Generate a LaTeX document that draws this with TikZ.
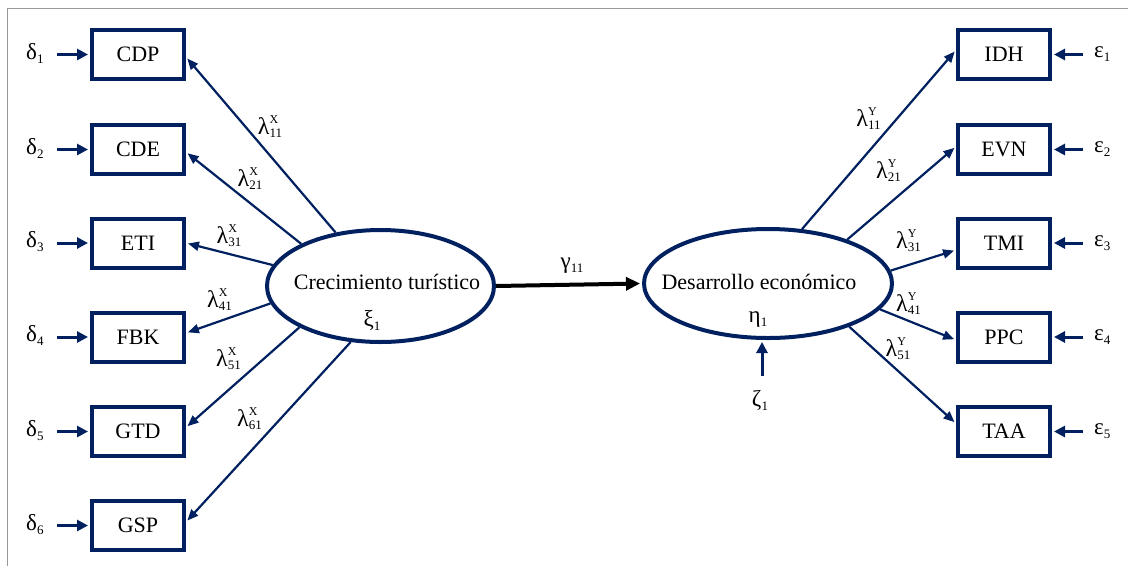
\documentclass[tikz,border=0pt]{standalone}
\usepackage{fontspec}
\setmainfont{Liberation Serif}
\usetikzlibrary{arrows.meta,shapes.geometric}
\definecolor{navy}{RGB}{0,32,96}
\newcommand{\sbs}[1]{\raisebox{-4pt}{\fontsize{13}{13}\selectfont #1}}
\newcommand{\lmb}[2]{{\fontsize{24}{26}\selectfont λ}\rlap{\raisebox{11pt}{\fontsize{12}{12}\selectfont #1}}\raisebox{-3pt}{\fontsize{13}{13}\selectfont #2}}
\begin{document}
\begin{tikzpicture}[x=1pt,y=-1pt,
  every node/.style={font=\fontsize{22}{24}\selectfont, text=black},
  obs/.style={draw=navy, line width=4pt, minimum width=92pt, minimum height=49pt, inner sep=0pt},
  lat/.style={ellipse, draw=navy, line width=4pt, inner sep=0pt},
  load/.style={draw=navy, line width=2.2pt, -{Triangle[length=11pt,width=9pt]}, shorten >=2pt},
  err/.style={draw=navy, line width=3pt, -{Triangle[length=11pt,width=11pt]}, shorten >=2pt},
  lbl/.style={inner sep=0pt},
  grk/.style={inner sep=0pt, font=\fontsize{23}{25}\selectfont}]
\useasboundingbox (0,0) rectangle (1128,566);
\draw[gray!80, line width=1pt] (1128,8) -- (7,8) -- (7,566);

% latent variables
\node[lat, minimum width=227pt, minimum height=112pt] (xi) at (380.5,286) {};
\node[lat, minimum width=248pt, minimum height=109pt] (eta) at (768,283.5) {};
\node[lbl, anchor=base] (xit) at (387,289) {Crecimiento turístico};
\node[grk] (xis) at (372,320) {ξ\sbs{1}};
\node[lbl, anchor=base] (etat) at (759,289) {Desarrollo económico};
\node[grk] (etas) at (758,320) {η\sbs{1}};

% observed X
\foreach \n/\t/\y in {CDP/CDP/54.5, CDE/CDE/149.5, ETI/ETI/243, FBK/FBK/337, GTD/GTD/431.5, GSP/GSP/525.5}{
  \node[obs] (\n) at (138,\y) {\t};
}
% observed Y
\foreach \n/\t/\y in {IDH/IDH/54.5, EVN/EVN/149.5, TMI/TMI/243, PPC/PPC/337, TAA/TAA/431.5}{
  \node[obs] (\n) at (1004,\y) {\t};
}

% delta errors
\foreach \i/\b/\y in {1/CDP/54.5, 2/CDE/149.5, 3/ETI/243, 4/FBK/337, 5/GTD/431.5, 6/GSP/525.5}{
  \node[grk, anchor=base west] (d\i) at (26,\y+4.5) {δ\sbs{\i}};
  \coordinate (d\i c) at (57,\y);
  \draw[err] (d\i c) -- (\b.west);
}
% epsilon errors
\foreach \i/\b/\y in {1/IDH/54.5, 2/EVN/149.5, 3/TMI/243, 4/PPC/337, 5/TAA/431.5}{
  \node[grk, anchor=base west] (e\i) at (1094,\y+3) {ε\sbs{\i}};
  \coordinate (e\i c) at (1083,\y);
  \draw[err] (e\i c) -- (\b.east);
}

% zeta
\node[grk] (z1) at (760,400) {ζ\sbs{1}};
\coordinate (z1c) at (762,376);
\draw[err] (z1c) -- ([xshift=-6pt]eta.south);

% gamma
\draw[black, line width=4pt, -{Triangle[length=14pt,width=13pt]}, shorten >=2pt] (xi.east) -- (eta.west);
\node[grk] (g11) at (572,266) {γ\sbs{11}};

% loadings X
\draw[load] (xi.130) -- ([shift={(0,2.5)}]CDP.east);
\draw[load] (xi.152) -- ([shift={(0,2.5)}]CDE.east);
\draw[load] (xi.169) -- ([shift={(0,0)}]ETI.east);
\draw[load] (xi.189) -- ([shift={(0,-4)}]FBK.east);
\draw[load] (xi.207) -- ([shift={(0,-4)}]GTD.east);
\draw[load] (xi.242.6) -- ([shift={(0,-3.5)}]GSP.east);
% loadings Y
\draw[load] (eta.58.3) -- ([shift={(0,-4.5)}]IDH.west);
\draw[load] (eta.29.4) -- ([shift={(0,-3)}]EVN.west);
\draw[load] (eta.6.9) -- ([shift={(0,7)}]TMI.west);
\draw[load] (eta.-13.1) -- ([shift={(0,3)}]PPC.west);
\draw[load] (eta.-28.3) -- ([shift={(0,-8)}]TAA.west);

% loading labels
\node[lbl] (lx1) at (270,127) {\lmb{X}{11}};
\node[lbl] (lx2) at (250,179) {\lmb{X}{21}};
\node[lbl] (lx3) at (229,236) {\lmb{X}{31}};
\node[lbl] (lx4) at (219.5,299.5) {\lmb{X}{41}};
\node[lbl] (lx5) at (228.5,359) {\lmb{X}{51}};
\node[lbl] (lx6) at (249.5,419) {\lmb{X}{61}};
\node[lbl] (ly1) at (868.5,119) {\lmb{Y}{11}};
\node[lbl] (ly2) at (888.5,171) {\lmb{Y}{21}};
\node[lbl] (ly3) at (908.5,241) {\lmb{Y}{31}};
\node[lbl] (ly4) at (908.5,304) {\lmb{Y}{41}};
\node[lbl] (ly5) at (898,348.5) {\lmb{Y}{51}};
\end{tikzpicture}
\end{document}
